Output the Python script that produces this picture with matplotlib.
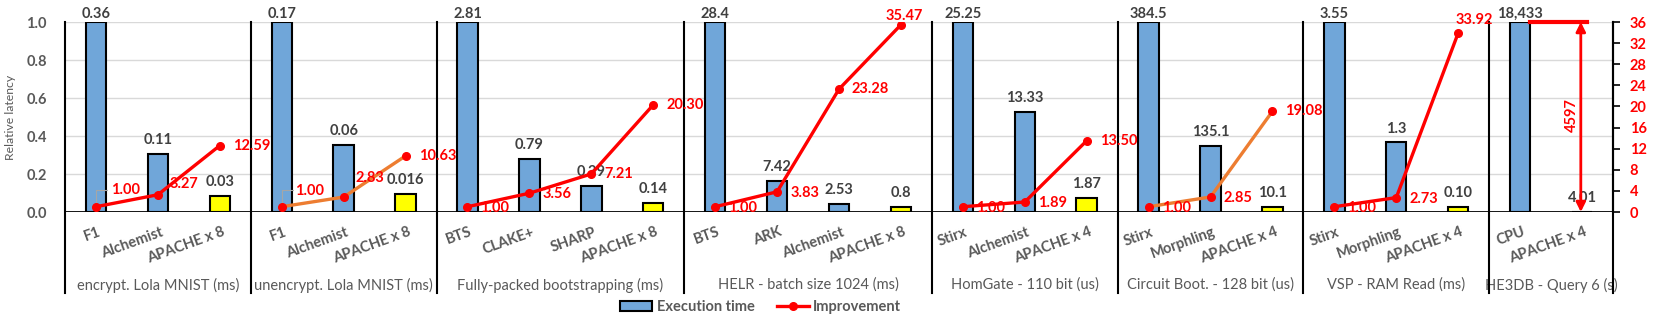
import matplotlib.pyplot as plt
from matplotlib.patches import Patch
from matplotlib.lines import Line2D

plt.rcParams['font.family'] = ['Lato', 'DejaVu Sans']

# data
groups = ["encrypt. Lola MNIST (ms)", "unencrypt. Lola MNIST (ms)",
          "Fully-packed bootstrapping (ms)", "HELR - batch size 1024 (ms)",
          "HomGate - 110 bit (us)", "Circuit Boot. - 128 bit (us)",
          "VSP - RAM Read (ms)", "HE3DB - Query 6 (s)"]
categories = [["F1", "Alchemist", "APACHE x 8"],
              ["F1", "Alchemist", "APACHE x 8"],
              ["BTS", "CLAKE+", "SHARP", "APACHE x 8"],
              ["BTS", "ARK", "Alchemist", "APACHE x 8"],
              ["Stirx", "Alchemist", "APACHE x 4"],
              ["Stirx", "Morphling", "APACHE x 4"],
              ["Stirx", "Morphling", "APACHE x 4"],
              ["CPU", "APACHE x 4"]]
# bar heights (relative latency) as drawn
rel_latency = [[1.0, 0.305, 0.083],
               [1.0, 0.353, 0.094],
               [1.0, 0.280, 0.138, 0.050],
               [1.0, 0.163, 0.042, 0.025],
               [1.0, 0.527, 0.074],
               [1.0, 0.350, 0.026],
               [1.0, 0.366, 0.028],
               [1.0, 0.0002]]
# absolute execution times printed above the bars
time_labels = [["0.36", "0.11", "0.03"],
               ["0.17", "0.06", "0.016"],
               ["2.81", "0.79", "0.39", "0.14"],
               ["28.4", "7.42", "2.53", "0.8"],
               ["25.25", "13.33", "1.87"],
               ["384.5", "135.1", "10.1"],
               ["3.55", "1.3", "0.10"],
               ["18,433", "4.01"]]
improvement = [[1.00, 3.27, 12.59],
               [1.00, 2.83, 10.63],
               [1.00, 3.56, 7.21, 20.30],
               [1.00, 3.83, 23.28, 35.47],
               [1.00, 1.89, 13.50],
               [1.00, 2.85, 19.08],
               [1.00, 2.73, 33.92]]
he3db_speedup = 4597

# styles
BLUE = "#70A6D9"
YELLOW = "#FFFF00"
RED = "#FF0000"
ORANGE = "#ED7D31"
GRAY = "#595959"
DARK = "#404040"
FS = 10.5
line_colors = [RED, ORANGE, RED, RED, RED, ORANGE, RED]
PX = 0.72  # pixels -> points at dpi 100
# label offsets (px) for the improvement labels that are not just right of the point
label_offsets = {(0, 0): (15, 17), (0, 1): (12, 11), (1, 0): (13, 16), (1, 1): (12, 19),
                 (3, 3): (3, 9, 'center'), (6, 2): (16, 13, 'center')}

fig = plt.figure(figsize=(16.61, 3.23), dpi=100)
L, R, B, T = 65 / 1661, 1613 / 1661, 1 - 212 / 323, 1 - 22 / 323
ax = fig.add_axes([L, B, R - L, T - B])
ax2 = ax.twinx()

n_total = sum(len(c) for c in categories)
ax.set_xlim(0, n_total)
ax.set_ylim(0, 1.0)
ax2.set_ylim(0, 36)

pos = 0
starts = []
for g, cats in enumerate(categories):
    starts.append(pos)
    xs = [pos + i + 0.5 for i in range(len(cats))]
    rel = rel_latency[g]
    colors = [YELLOW if c.startswith("APACHE") else BLUE for c in cats]
    ax.bar(xs, rel, width=0.33, color=colors, edgecolor="black", linewidth=1.5, zorder=3)
    for x, h, s in zip(xs, rel, time_labels[g]):
        dy = 1 if h >= 1 else 5
        ax.annotate(s, (x, h), xytext=(0, dy), textcoords="offset points",
                    ha="center", va="bottom", fontsize=FS, fontweight="bold", color=DARK,
                    zorder=5)
    for x, c in zip(xs, cats):
        ax.annotate(c, (x, 0), xytext=(2 * PX, -13 * PX), textcoords="offset points",
                    ha="right", va="top", rotation=20, rotation_mode="anchor",
                    fontsize=FS, fontweight="bold", color=GRAY, annotation_clip=False)
    ax.annotate(groups[g], ((xs[0] + xs[-1]) / 2, 0), xytext=(0, -73 * PX),
                textcoords="offset points", ha="center", va="center",
                fontsize=FS, color=GRAY, annotation_clip=False)
    if g < len(improvement):
        ax2.plot(xs, improvement[g], color=line_colors[g], linewidth=2.4, zorder=4)
        ax2.plot(xs, improvement[g], "o", color=RED, markersize=5.5, zorder=5)
        for i, (x, v) in enumerate(zip(xs, improvement[g])):
            off = label_offsets.get((g, i), (13, -1 if i < 2 else 0))
            ha = off[2] if len(off) > 2 else "left"
            ax2.annotate(f"{v:.2f}", (x, v), xytext=(off[0] * PX, off[1] * PX),
                         textcoords="offset points", ha=ha, va="center",
                         fontsize=FS, fontweight="bold", color=RED, zorder=6)
        if g < 2:
            x0 = xs[0]
            ax2.annotate("", (x0, 1.0), xytext=(14 * PX, 17 * PX), textcoords="offset points",
                         arrowprops=dict(arrowstyle="-", color="#A6A6A6", lw=0.8,
                                         connectionstyle="angle,angleA=0,angleB=90,rad=0"))
    pos += len(cats)
starts.append(pos)

# HE3DB arrow
xc = starts[-2] + 0.5
ax2.plot([xc + 0.165, xc + 1.08], [36, 36], color=RED, linewidth=3, zorder=4,
         clip_on=False)
ax2.annotate("", (xc + 0.98, 0), xytext=(xc + 0.98, 36),
             arrowprops=dict(arrowstyle="<|-|>", color=RED, lw=2,
                             mutation_scale=14, shrinkA=0, shrinkB=0))
ax2.text(xc + 0.84, 18.4, str(he3db_speedup), rotation=90, ha="center", va="center",
         fontsize=FS, fontweight="bold", color=RED)

# group separators
for s in starts:
    ax.plot([s, s], [1.0, -0.426], color="black", linewidth=1.5, clip_on=False, zorder=6)
ax.axhline(0, color="black", linewidth=2, zorder=6)

ax.set_yticks([0, 0.2, 0.4, 0.6, 0.8, 1.0])
ax.set_yticklabels([f"{v:.1f}" for v in [0, 0.2, 0.4, 0.6, 0.8, 1.0]])
ax.tick_params(axis="y", length=0, pad=13, labelsize=FS, labelcolor=GRAY)
for t in ax.get_yticklabels():
    t.set_fontweight("bold")
ax.set_xticks([])
ax.grid(axis="y", color="#D9D9D9", linewidth=1, zorder=0)
ax.set_axisbelow(True)
ax.set_ylabel("Relative latency", fontsize=8.8, color=GRAY)
ax.yaxis.set_label_coords(-(65 - 16) / 1548, 0.5)

ax2.set_yticks(range(0, 37, 4))
ax2.tick_params(axis="y", length=5, width=1.2, color="black", labelsize=FS,
                labelcolor=RED, pad=7)
for t in ax2.get_yticklabels():
    t.set_fontweight("bold")

for a in (ax, ax2):
    for sp in a.spines.values():
        sp.set_visible(False)
ax2.spines["right"].set_visible(True)
ax2.spines["right"].set_linewidth(1.5)
ax2.spines["right"].set_bounds(0, 36)

handles = [Patch(facecolor=BLUE, edgecolor="black", linewidth=1.5),
           Line2D([0], [0], color=RED, linewidth=2.4, marker="o", markersize=5.5)]
fig.legend(handles, ["Execution time", "Improvement"], loc="center",
           bbox_to_anchor=(0.458, 1 - 307 / 323), ncol=2, frameon=False,
           prop={"size": FS, "weight": "bold"}, labelcolor=GRAY,
           handlelength=2.2, columnspacing=1.5, handletextpad=0.3)

fig.savefig("out.png", dpi=100)
